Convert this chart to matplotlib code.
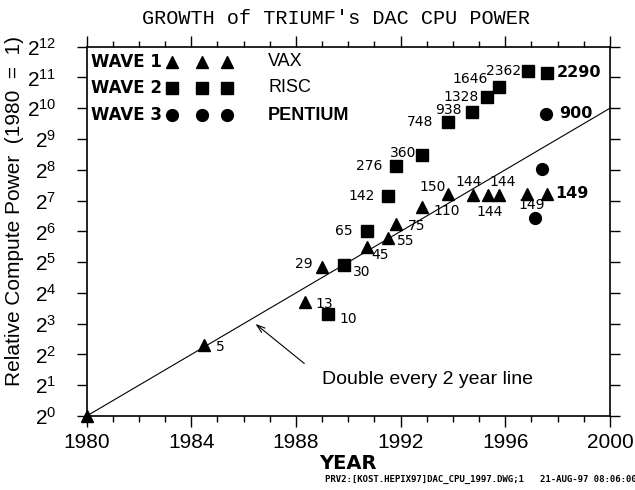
#!/usr/bin/env python3

# plotting
import matplotlib
matplotlib.use("Agg")
import matplotlib.pyplot as plt

# wave 1 (VAX)
vax_year = [1980.0, 1984.5, 1988.33, 1989.0, 1990.7, 1991.5, 1991.83, 1992.83,
            1993.83, 1994.75, 1995.33, 1995.75, 1996.83, 1997.6]
vax_power = [1, 5, 13, 29, 45, 55, 75, 110, 150, 144, 144, 144, 149, 149]
vax_label = ["", "5", "13", "29", "45", "55", "75", "110", "150", "144", "144", "144", "149", "149"]

# wave 2 (RISC)
risc_year = [1989.22, 1989.83, 1990.71, 1991.51, 1991.82, 1992.83, 1993.82,
             1994.74, 1995.31, 1995.75, 1996.87, 1997.6]
risc_power = [10, 30, 65, 142, 276, 360, 748, 938, 1328, 1646, 2362, 2290]
risc_label = ["10", "30", "65", "142", "276", "360", "748", "938", "1328", "1646", "2362", "2290"]

# wave 3 (PENTIUM)
pentium_year = [1997.13, 1997.41, 1997.57]
pentium_power = [86, 260, 900]
pentium_label = ["", "", "900"]

# double every 2 year line
line_year = [1980, 2000]
line_power = [1, 1024]

year_ticks = [1980, 1984, 1988, 1992, 1996, 2000]
power_exponents = list(range(13))

# label placement (offset points, alignment, bold)
vax_offset = [(0, 0, "left", False), (8, -1.5, "left", False), (8, -1.5, "left", False),
              (-7, 1.5, "right", False), (3.6, -6, "left", False), (7, -2, "left", False),
              (8.5, -1.5, "left", False), (8, -3, "left", False), (-2, 5, "right", False),
              (-3, 9.5, "center", False), (1, -12, "center", False), (3, 9.5, "center", False),
              (3.5, -8, "center", False), (6, 0, "left", True)]
risc_offset = [(8, -3.5, "left", False), (6.5, -5, "left", False), (-10, 0, "right", False),
               (-9.5, 0, "right", False), (-10, 0, "right", False), (-4.5, 1.5, "right", False),
               (-11, 0, "right", False), (-8, 1.5, "right", False), (-6.5, 0, "right", False),
               (-8, 6, "right", False), (-5, 0, "right", False), (7, 0, "left", True)]
pentium_offset = [(0, 0, "left", False), (0, 0, "left", False), (9.5, 0, "left", True)]


def put_labels(ax, xs, ys, labels, offsets):
    for x, y, text, (dx, dy, ha, bold) in zip(xs, ys, labels, offsets):
        if not text:
            continue
        ax.annotate(text, (x, y), xytext=(dx, dy), textcoords="offset points",
                    ha=ha, va="center", family="DejaVu Sans",
                    fontsize=11.5 if bold else 10,
                    fontweight="bold" if bold else "normal")


def main():
    plt.rcParams["font.family"] = ["Liberation Sans", "DejaVu Sans"]
    plt.rcParams["mathtext.default"] = "regular"
    fig = plt.figure(figsize=(6.35, 4.9), dpi=100)
    ax = fig.add_axes([0.1365, 0.151, 0.824, 0.7537])

    ax.plot(line_year, line_power, color="black", lw=0.8)
    ax.plot(vax_year, vax_power, "^", color="black", ms=9, ls="none", clip_on=False, zorder=3)
    ax.plot(risc_year, risc_power, "s", color="black", ms=8, ls="none", clip_on=False, zorder=3)
    ax.plot(pentium_year, pentium_power, "o", color="black", ms=8.5, ls="none", clip_on=False, zorder=3)

    put_labels(ax, vax_year, vax_power, vax_label, vax_offset)
    put_labels(ax, risc_year, risc_power, risc_label, risc_offset)
    put_labels(ax, pentium_year, pentium_power, pentium_label, pentium_offset)

    # arrow and line annotation
    ax.annotate("", xy=(1986.37, 2 ** 3.05), xytext=(1988.4, 2 ** 1.65),
                arrowprops=dict(arrowstyle="->,head_length=0.6,head_width=0.2",
                                color="black", lw=0.8))
    ax.text(1989.0, 2 ** 1.2, "Double every 2 year line", fontsize=14, va="center", ha="left")

    # axes
    ax.set_yscale("log", base=2)
    ax.set_xlim(1980, 2000)
    ax.set_ylim(1, 4096)
    ax.set_yticks([2 ** e for e in power_exponents])
    ax.set_yticklabels([r"$2^{%d}$" % e for e in power_exponents])
    ax.yaxis.set_minor_locator(matplotlib.ticker.NullLocator())
    ax.set_xticks(year_ticks)
    ax.set_xticklabels([str(y) for y in year_ticks])
    ax.set_xticks(range(1980, 2001), minor=True)
    ax.tick_params(axis="x", which="major", length=8, width=1, direction="out",
                   top=True, labelsize=15, pad=4)
    ax.tick_params(axis="x", which="minor", length=4, width=1, direction="out", top=True)
    ax.tick_params(axis="y", which="major", length=7, width=1, direction="out",
                   right=True, labelsize=15, pad=15)
    for spine in ax.spines.values():
        spine.set_linewidth(1.2)

    ax.set_ylabel("Relative Compute Power  (1980  =  1)", fontsize=15)
    ax.yaxis.set_label_coords(-0.12, 0.555)
    ax.set_xlabel("YEAR", fontsize=14, fontweight="bold", family="DejaVu Sans", labelpad=2)

    # legend built by hand
    legend_rows = [("WAVE 1", "^", 9, "VAX", "normal"),
                   ("WAVE 2", "s", 8, "RISC", "normal"),
                   ("WAVE 3", "o", 8.5, "PENTIUM", "bold")]
    legend_y = [0.9594, 0.889, 0.815]
    for (wave, marker, ms, name, weight), ly in zip(legend_rows, legend_y):
        ax.text(0.008, ly, wave, transform=ax.transAxes, fontsize=12, fontweight="bold",
                family="DejaVu Sans", va="center", ha="left")
        ax.plot([0.1624, 0.2198, 0.2676], [ly] * 3, marker, color="black", ms=ms,
                ls="none", transform=ax.transAxes)
        ax.text(0.347, ly, name, transform=ax.transAxes, fontsize=13, fontweight=weight,
                va="center", ha="left")

    fig.text(336 / 635, 1 - 18 / 490, "GROWTH of TRIUMF's DAC CPU POWER",
             family="Liberation Mono", fontsize=14.5, ha="center", va="center")
    fig.text(1.002, 1 - 479 / 490, "PRV2:[KOST.HEPIX97]DAC_CPU_1997.DWG;1   21-AUG-97 08:06:00",
             family="DejaVu Sans Mono", fontsize=6.5, fontweight="bold", ha="right", va="center")

    fig.savefig("out.png", dpi=100)


if __name__ == "__main__":
    main()
